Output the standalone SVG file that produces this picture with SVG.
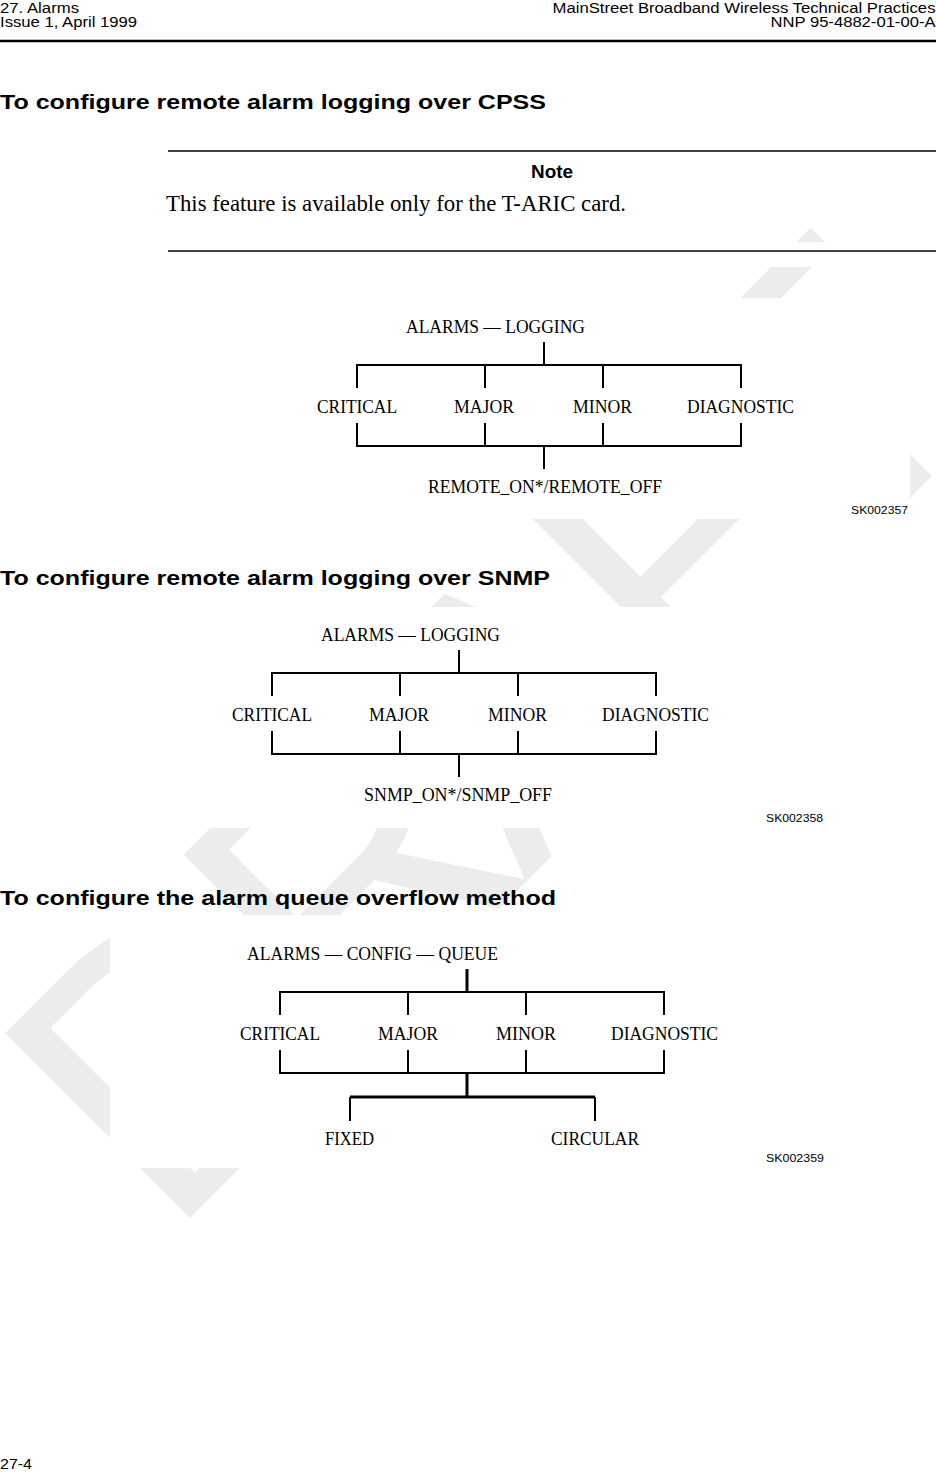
<svg xmlns="http://www.w3.org/2000/svg" width="936" height="1476" viewBox="0 0 936 1476">
<style>
.hdr{font-family:"Liberation Sans",Arial,sans-serif;font-size:14px;fill:#000}
.h{font-family:"Liberation Sans",Arial,sans-serif;font-weight:bold;font-size:21px;fill:#000}
.note{font-family:"Liberation Sans",Arial,sans-serif;font-weight:bold;font-size:18.6px;fill:#000}
.body{font-family:"Liberation Serif","Times New Roman",serif;font-size:22.6px;fill:#000}
.lbl{font-family:"Liberation Serif","Times New Roman",serif;font-size:19px;fill:#000}
.sk{font-family:"Liberation Sans",Arial,sans-serif;font-size:11px;fill:#000}
.ln{stroke:#000;stroke-width:2;fill:none}
.thk{stroke:#000;stroke-width:3;fill:none}
.rule{stroke:#000;stroke-width:1.4}
.wm{font-family:"Liberation Sans",Arial,sans-serif;font-size:380px;fill:#ececec}
</style>
<defs>
<clipPath id="wmclip">
<rect x="0" y="228" width="936" height="14"/>
<rect x="0" y="267" width="936" height="31"/>
<rect x="910" y="298" width="26" height="221"/>
<rect x="0" y="298" width="110" height="221"/>
<rect x="0" y="519" width="936" height="88"/>
<rect x="0" y="607" width="110" height="221"/>
<rect x="0" y="828" width="936" height="87"/>
<rect x="0" y="915" width="110" height="253"/>
<rect x="0" y="1168" width="936" height="308"/>
</clipPath>
</defs>
<rect x="0" y="0" width="936" height="1476" fill="#fff"/>
<g id="watermark" clip-path="url(#wmclip)">
<text class="wm" x="168" y="1240" letter-spacing="-21.9" transform="rotate(-45 168 1240)">DRAFT</text>
</g>
<g id="page-header">
<text class="hdr" x="0" y="12.8" textLength="79" lengthAdjust="spacingAndGlyphs">27. Alarms</text>
<text class="hdr" x="0" y="26.5" textLength="137" lengthAdjust="spacingAndGlyphs">Issue 1, April 1999</text>
<text class="hdr" x="935.5" y="12.8" text-anchor="end" textLength="383" lengthAdjust="spacingAndGlyphs">MainStreet Broadband Wireless Technical Practices</text>
<text class="hdr" x="935.5" y="26.5" text-anchor="end" textLength="165" lengthAdjust="spacingAndGlyphs">NNP 95-4882-01-00-A</text>
<line x1="0" y1="41" x2="936" y2="41" stroke="#000" stroke-width="2.4"/>
</g>
<g id="heading-cpss">
<text class="h" x="0" y="109" textLength="546" lengthAdjust="spacingAndGlyphs">To configure remote alarm logging over CPSS</text>
</g>
<g id="note">
<line class="rule" x1="168" y1="151" x2="936" y2="151"/>
<text class="note" x="531" y="178" textLength="42" lengthAdjust="spacingAndGlyphs">Note</text>
<text class="body" x="166" y="210.5" textLength="460" lengthAdjust="spacingAndGlyphs">This feature is available only for the T-ARIC card.</text>
<line class="rule" x1="168" y1="251" x2="936" y2="251"/>
</g>
<g id="diagram1">
<g id="d1-root"><text class="lbl" x="406" y="333" textLength="179" lengthAdjust="spacingAndGlyphs">ALARMS — LOGGING</text></g>
<g id="d1-critical"><text class="lbl" x="317" y="413" textLength="80" lengthAdjust="spacingAndGlyphs">CRITICAL</text></g>
<g id="d1-major"><text class="lbl" x="454" y="413" textLength="60" lengthAdjust="spacingAndGlyphs">MAJOR</text></g>
<g id="d1-minor"><text class="lbl" x="573" y="413" textLength="59" lengthAdjust="spacingAndGlyphs">MINOR</text></g>
<g id="d1-diagnostic"><text class="lbl" x="687" y="413" textLength="107" lengthAdjust="spacingAndGlyphs">DIAGNOSTIC</text></g>
<g id="d1-remote"><text class="lbl" x="428" y="493" textLength="234" lengthAdjust="spacingAndGlyphs">REMOTE_ON*/REMOTE_OFF</text></g>
<g id="d1-code"><text class="sk" x="851" y="514" textLength="57" lengthAdjust="spacingAndGlyphs">SK002357</text></g>
<g id="d1-connectors">
<path class="ln" d="M544 342V365M357 388V365H741V388M485 365V388M603 365V388M357 423V446H741V423M485 423V446M603 423V446M544 446V469"/>
</g>
</g>
<g id="heading-snmp">
<text class="h" x="0" y="585" textLength="550" lengthAdjust="spacingAndGlyphs">To configure remote alarm logging over SNMP</text>
</g>
<g id="diagram2">
<g id="d2-root"><text class="lbl" x="321" y="641" textLength="179" lengthAdjust="spacingAndGlyphs">ALARMS — LOGGING</text></g>
<g id="d2-critical"><text class="lbl" x="232" y="721" textLength="80" lengthAdjust="spacingAndGlyphs">CRITICAL</text></g>
<g id="d2-major"><text class="lbl" x="369" y="721" textLength="60" lengthAdjust="spacingAndGlyphs">MAJOR</text></g>
<g id="d2-minor"><text class="lbl" x="488" y="721" textLength="59" lengthAdjust="spacingAndGlyphs">MINOR</text></g>
<g id="d2-diagnostic"><text class="lbl" x="602" y="721" textLength="107" lengthAdjust="spacingAndGlyphs">DIAGNOSTIC</text></g>
<g id="d2-snmp"><text class="lbl" x="364" y="801" textLength="188" lengthAdjust="spacingAndGlyphs">SNMP_ON*/SNMP_OFF</text></g>
<g id="d2-code"><text class="sk" x="766" y="822" textLength="57" lengthAdjust="spacingAndGlyphs">SK002358</text></g>
<g id="d2-connectors">
<path class="ln" d="M459 650V673M272 696V673H656V696M400 673V696M518 673V696M272 731V754H656V731M400 731V754M518 731V754M459 754V777"/>
</g>
</g>
<g id="heading-queue">
<text class="h" x="0" y="904.5" textLength="556" lengthAdjust="spacingAndGlyphs">To configure the alarm queue overflow method</text>
</g>
<g id="diagram3">
<g id="d3-root"><text class="lbl" x="247" y="960" textLength="251" lengthAdjust="spacingAndGlyphs">ALARMS — CONFIG — QUEUE</text></g>
<g id="d3-critical"><text class="lbl" x="240" y="1040" textLength="80" lengthAdjust="spacingAndGlyphs">CRITICAL</text></g>
<g id="d3-major"><text class="lbl" x="378" y="1040" textLength="60" lengthAdjust="spacingAndGlyphs">MAJOR</text></g>
<g id="d3-minor"><text class="lbl" x="496" y="1040" textLength="60" lengthAdjust="spacingAndGlyphs">MINOR</text></g>
<g id="d3-diagnostic"><text class="lbl" x="611" y="1040" textLength="107" lengthAdjust="spacingAndGlyphs">DIAGNOSTIC</text></g>
<g id="d3-fixed"><text class="lbl" x="325" y="1145" textLength="49" lengthAdjust="spacingAndGlyphs">FIXED</text></g>
<g id="d3-circular"><text class="lbl" x="551" y="1145" textLength="88" lengthAdjust="spacingAndGlyphs">CIRCULAR</text></g>
<g id="d3-code"><text class="sk" x="766" y="1162" textLength="58" lengthAdjust="spacingAndGlyphs">SK002359</text></g>
<g id="d3-connectors">
<path class="thk" d="M467 969V992M467 1073V1097M350 1097H595"/>
<path class="ln" d="M280 1015V992H664V1015M408 992V1015M526 992V1015M280 1050V1073H664V1050M408 1050V1073M526 1050V1073M350 1097V1121M595 1097V1121"/>
</g>
</g>
<g id="page-footer">
<text class="hdr" x="0" y="1469" textLength="32" lengthAdjust="spacingAndGlyphs">27-4</text>
</g>
</svg>
